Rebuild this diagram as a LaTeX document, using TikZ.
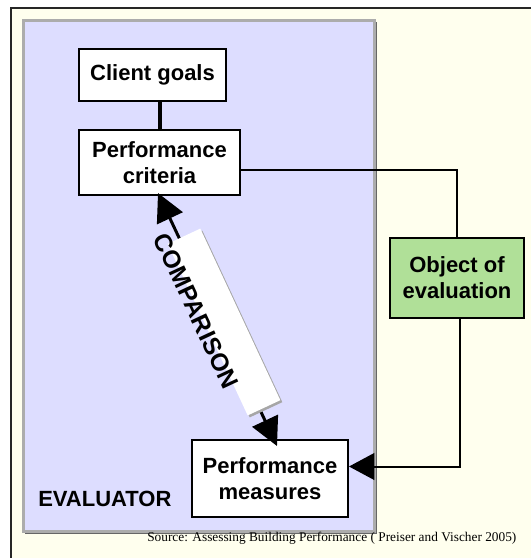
\documentclass[tikz,border=0pt]{standalone}
\usepackage{fontspec}
\setmainfont{Liberation Serif}
\setsansfont{Liberation Sans}
\usepackage{xcolor}
\usepackage{tikz}
\usetikzlibrary{arrows.meta,positioning,calc,shadows}
\definecolor{paper}{RGB}{255,255,238}
\definecolor{evalbg}{RGB}{221,221,255}
\definecolor{objgreen}{RGB}{176,224,152}

\begin{document}
\begin{tikzpicture}[
  x=0.75pt, y=-0.75pt,
  every node/.style={font=\sffamily\bfseries\fontsize{16.5}{19.5}\selectfont},
  box/.style={draw=black, line width=1.5pt, fill=white, align=center, inner sep=0pt},
  link/.style={line width=1.5pt, black},
  arr/.style={-{Triangle[length=19pt, width=20pt]}},
  twoway/.style={{Triangle[length=21pt, width=21pt]}-{Triangle[length=21pt, width=21pt]}, line width=2.25pt},
  cmpbox/.style={fill=white, inner sep=0pt, drop shadow={shadow xshift=1.5pt, shadow yshift=-1.5pt, fill=gray!70, opacity=1}}
]
\useasboundingbox (0,0) rectangle (531,558);
\fill[paper] (11,8) rectangle (531,558);
\draw[line width=1.5pt, black!85] (531,8) -- (11,8) -- (11,558);

% evaluator area
\fill[black!60] (25,22) rectangle (377,534);
\draw[fill=evalbg, draw=gray!65, line width=2.25pt] (23,20) rectangle (374,531);

\node[box, minimum width=110.25pt, minimum height=39pt] (goals) at (152.5,75) {Client goals};
\node[box, minimum width=120.75pt, minimum height=48.75pt] (crit) at (159.5,162.5) {Performance\\criteria};
\node[box, minimum width=117pt, minimum height=57.75pt] (meas) at (270,478.5) {Performance\\measures};
\node[box, fill=objgreen, minimum width=100.5pt, minimum height=60pt] (obj) at (457,278) {Object of\\evaluation};
\node[anchor=west, inner sep=0pt] (evallbl) at (38,499) {EVALUATOR};
\node[font=\fontsize{10}{12}\selectfont, anchor=west, inner sep=0pt] (src) at (147,538) {Source: Assessing Building Performance ( Preiser and Vischer 2005)};

\draw[line width=3pt] (crit.north) -- (crit.north |- goals.south);
\draw[link] ($(crit.east)+(0,7.5)$) -| (obj.north);
\draw[link, arr] ($(obj.south)+(3,0)$) |- ($(meas.east)+(0,-12)$);

% comparison
\draw[twoway] ($(crit.south)+(-1.5,-3)$) -- ($(meas.north)+(7,7)$);
\node[cmpbox, rotate=-65, minimum width=142pt, minimum height=27pt] (cmpbg) at (224,322) {};
\node[rotate=-65, font=\sffamily\bfseries\fontsize{18.5}{20}\selectfont] (cmp) at (196,311) {COMPARISON};
\end{tikzpicture}
\end{document}
